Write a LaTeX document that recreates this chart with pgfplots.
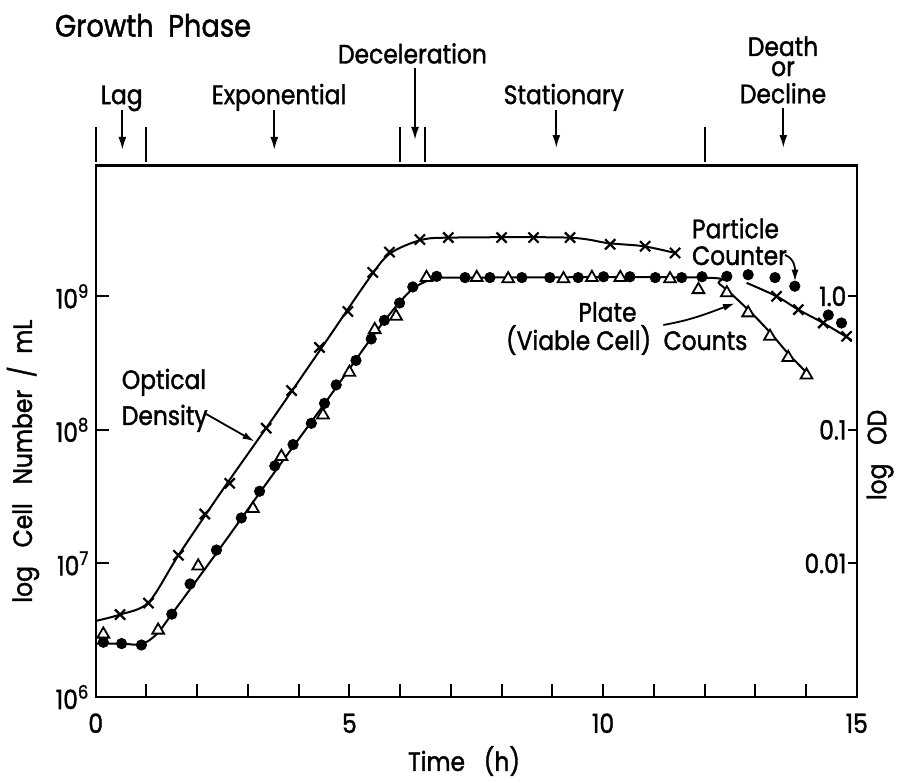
\documentclass[border=0pt]{standalone}
\usepackage{fontspec}
\setmainfont{Poppins}[FakeStretch=0.88, FakeBold=1.4]
\usepackage{pgfplots}
\pgfplotsset{compat=1.18}
\usetikzlibrary{arrows.meta}
\newcommand\lab{\fontsize{13.3}{16}\selectfont}
\newcommand\biglab{\fontsize{15.5}{18}\selectfont}
\begin{document}
\begin{tikzpicture}
\begin{axis}[
  scale only axis, width=380.5pt, height=265.65pt,
  xmin=0, xmax=15, ymode=log, ymin=1e6, ymax=9.5e9,
  axis line style={line width=1.2pt},
  xtick={0,1,2,3,4,5,6,7,8,9,10,11,12,13,14,15},
  xticklabels={0,,,,,5,,,,,10,,,,,15},
  ytick={1e6,1e7,1e8,1e9},
  yticklabels={10\textsuperscript{6},10\textsuperscript{7},10\textsuperscript{8},10\textsuperscript{9}},
  yminorticks=false,
  xtick pos=bottom, ytick pos=left,
  tick align=inside, major tick length=6.5pt,
  tick style={line width=1pt, black},
  /pgf/number format/assume math mode=true,
  ticklabel style={font=\lab},
  xticklabel style={anchor=base, yshift=-18pt},
  yticklabel style={anchor=east, inner sep=0pt, xshift=-3pt},
  xlabel={Time\ \ \ (h)},
  xlabel style={font=\lab, at={(axis description cs:0.484,0)}, anchor=base, yshift=-37pt},
  ylabel={log\ \ \ Cell\ \ \ Number\ \ /\ \ mL},
  ylabel style={font=\lab, at={(axis description cs:-0.0955,0.444)}, anchor=center},
  clip=false,
]
% bounding box matching the reference proportions
\path (axis description cs:-0.1258,-0.1525) rectangle (axis description cs:1.0582,1.3119);

% Optical density curve (two segments, gap behind label)
\addplot[smooth, line width=1pt, black] coordinates {
(0,3.71e6) (0.48,4.14e6) (1.04,5.1e6) (1.63,1.15e7) (2.5,3.55e7) (3.5,1.23e8)
(4.5,4.37e8) (5.4,1.38e9) (5.8,2.09e9) (6.4,2.63e9) (7.0,2.75e9) (9.3,2.75e9)
(10.1,2.5e9) (10.8,2.37e9) (11.42,2.11e9)};
\addplot[smooth, line width=1pt, black] coordinates {
(12.83,1.26e9) (13.42,1.0e9) (13.85,7.94e8) (14.34,6.31e8) (14.9,4.7e8)};
% viable / particle curve
\addplot[smooth, line width=1pt, black] coordinates {
(0,2.51e6) (0.5,2.51e6) (0.9,2.48e6) (1.2,2.95e6) (1.5,4.17e6) (2.5,1.38e7)
(3.5,4.68e7) (4.5,1.55e8) (5.4,4.68e8) (5.7,6.61e8) (6.0,9.12e8) (6.3,1.175e9)
(6.7,1.365e9) (7.2,1.38e9) (11.95,1.38e9) (12.3,1.23e9) (12.86,7.94e8)
(13.29,5.37e8) (13.65,3.72e8) (14.01,2.69e8)};

% OD marks
\addplot[only marks, mark=x, mark size=3.6pt, mark options={line width=1.1pt}, black] coordinates {
(0.48,4.14e6) (1.04,5.05e6) (1.63,1.15e7) (2.15,2.34e7) (2.64,3.98e7) (3.36,1.03e8)
(3.86,1.97e8) (4.41,4.14e8) (4.97,7.69e8) (5.46,1.51e9) (5.79,2.14e9) (6.39,2.66e9)
(6.95,2.75e9) (8.00,2.75e9) (8.63,2.75e9) (9.35,2.75e9) (10.14,2.45e9) (10.83,2.37e9)
(11.42,2.11e9) (13.42,1.0e9) (13.85,7.94e8) (14.34,6.31e8) (14.80,5.01e8)};

% Plate (viable cell) counts
\addplot[only marks, mark=triangle*, mark size=3.4pt, mark options={fill=white, draw=black, line width=0.9pt}] coordinates {
(0.15,2.95e6) (1.23,3.16e6) (2.02,9.55e6) (3.10,2.57e7) (3.66,6.31e7) (4.48,1.29e8)
(5.00,2.69e8) (5.50,5.62e8) (5.92,7.08e8) (6.52,1.38e9) (7.51,1.38e9) (8.13,1.35e9)
(9.22,1.35e9) (9.78,1.38e9) (10.34,1.38e9) (11.32,1.35e9) (11.88,1.12e9)
(12.44,1.06e9) (12.86,7.50e8) (13.29,5.01e8) (13.65,3.47e8) (14.01,2.57e8)};

% Particle counter
\addplot[only marks, mark=*, mark size=2.6pt, black] coordinates {
(0.15,2.57e6) (0.51,2.51e6) (0.90,2.45e6) (1.50,4.17e6) (1.86,7.02e6) (2.38,1.26e7)
(2.87,2.19e7) (3.23,3.47e7) (3.53,5.37e7) (3.89,7.76e7) (4.25,1.12e8) (4.51,1.58e8)
(4.74,2.17e8) (5.13,3.31e8) (5.43,4.79e8) (5.69,6.61e8) (5.99,8.91e8) (6.25,1.175e9)
(6.72,1.41e9) (7.28,1.38e9) (7.77,1.38e9) (8.40,1.38e9) (8.95,1.38e9) (9.51,1.38e9)
(10.01,1.40e9) (10.53,1.40e9) (11.03,1.38e9) (11.55,1.38e9) (11.95,1.40e9)
(12.44,1.41e9) (12.86,1.45e9) (13.39,1.38e9) (13.78,1.19e9) (14.44,7.24e8) (14.70,6.31e8)};

% growth phase annotations
\node[anchor=base west, inner sep=0pt, font=\biglab] at (axis description cs:-0.054,1.2428) {Growth\ \ Phase};
\begin{scope}[font=\lab, inner sep=0pt]
\node[anchor=base] at (axis description cs:0.0342,1.1160) {Lag};
\node[anchor=base] at (axis description cs:0.2409,1.1160) {Exponential};
\node[anchor=base] at (axis description cs:0.4162,1.1924) {Deceleration};
\node[anchor=base] at (axis description cs:0.6151,1.1160) {Stationary};
\node[anchor=base, text depth=0pt] at (axis description cs:0.9032,1.2065) {Death};
\node[anchor=base, text height=1.05ex, text depth=0pt] at (axis description cs:0.9032,1.1688) {or};
\node[anchor=base] at (axis description cs:0.9032,1.1175) {Decline};
\end{scope}
\draw[line width=1pt] (axis description cs:0,1.0075) -- (axis description cs:0,1.0729);
\draw[line width=1pt] (axis description cs:0.0667,1.0075) -- (axis description cs:0.0667,1.0729);
\draw[line width=1pt] (axis description cs:0.4,1.0075) -- (axis description cs:0.4,1.0729);
\draw[line width=1pt] (axis description cs:0.4333,1.0075) -- (axis description cs:0.4333,1.0729);
\draw[line width=1pt] (axis description cs:0.8,1.0075) -- (axis description cs:0.8,1.0729);
\begin{scope}[line width=1pt, -{Latex[length=6.5pt,width=4pt]}]
\draw (axis description cs:0.035,1.1048) -- (axis description cs:0.035,1.0296);
\draw (axis description cs:0.2347,1.1048) -- (axis description cs:0.2347,1.0296);
\draw (axis description cs:0.4196,1.1839) -- (axis description cs:0.4196,1.0484);
\draw (axis description cs:0.6053,1.1048) -- (axis description cs:0.6053,1.0333);
\draw (axis description cs:0.9036,1.1086) -- (axis description cs:0.9036,1.0333);
\end{scope}

% curve labels
\begin{scope}[font=\lab, inner sep=0pt]
\node[anchor=base west] at (axis description cs:0.0338,0.5797) {Optical};
\node[anchor=base west] at (axis description cs:0.0338,0.512) {Density};
\node[anchor=base west] at (axis description cs:0.7832,0.8634) {Particle};
\node[anchor=base west] at (axis description cs:0.7832,0.8131) {Counter};
\node[anchor=base] at (axis description cs:0.6725,0.7064) {Plate};
\node[anchor=base] at (axis description cs:0.6978,0.6531) {(Viable\ Cell)\ \ Counts};
\node[anchor=center, rotate=90] at (axis description cs:1.0306,0.4555) {log\ \ \ OD};
\end{scope}
\begin{scope}[line width=0.9pt, -{Latex[length=6pt,width=3.5pt]}]
\draw (axis description cs:0.145,0.5327) -- (axis cs:3.13,8.18e7);
\draw (axis description cs:0.9058,0.8319) to[out=-20,in=90] (axis description cs:0.9189,0.7817);
\draw (axis description cs:0.7459,0.7002) to[out=10,in=200] (axis description cs:0.8401,0.741);
\end{scope}
\end{axis}
% right axis: log OD
\begin{axis}[
  scale only axis, width=380.5pt, height=265.65pt,
  xmin=0, xmax=15, ymode=log, ymin=1e-3, ymax=9.5,
  axis x line=none, axis y line*=right,
  axis line style={line width=1.2pt},
  ytick={0.01,0.1,1}, yticklabels={0.01,0.1,1.0},
  yminorticks=false,
  tick align=inside, major tick length=4.5pt,
  tick style={line width=1pt, black},
  ticklabel style={font=\lab},
  yticklabel style={anchor=east, inner sep=0pt, xshift=-5pt},
]
\addplot[draw=none] coordinates {(0,1)};
\end{axis}
\end{tikzpicture}
\end{document}
